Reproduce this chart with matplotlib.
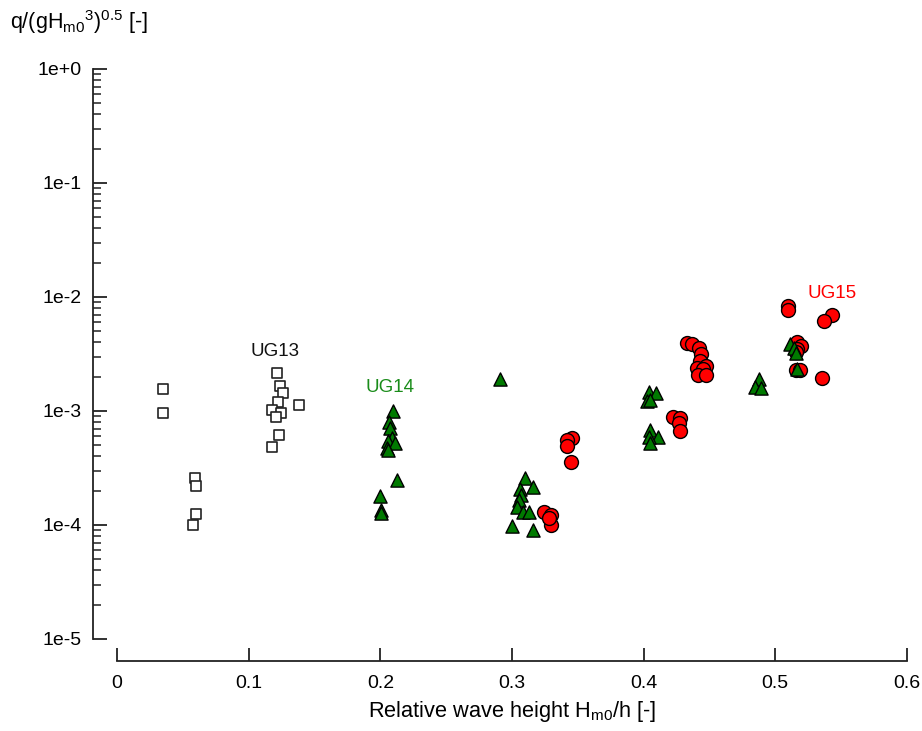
import numpy as np
import matplotlib
matplotlib.use("Agg")
import matplotlib.pyplot as plt
from matplotlib.ticker import FixedLocator, LogLocator, NullFormatter

plt.rcParams['font.family'] = ['Liberation Sans', 'DejaVu Sans']
plt.rcParams['mathtext.default'] = 'regular'

# data (x = Hm0/h, q = dimensionless overtopping)
ug13_x = [0.035, 0.035, 0.059, 0.060, 0.060, 0.058,
          0.1215, 0.124, 0.126, 0.1225, 0.138, 0.118, 0.1245, 0.121, 0.123, 0.1175]
ug13_q = [1.57e-3, 9.5e-4, 2.6e-4, 2.2e-4, 1.25e-4, 9.9e-5,
          2.17e-3, 1.66e-3, 1.43e-3, 1.21e-3, 1.13e-3, 1.01e-3, 9.5e-4, 8.8e-4, 6.1e-4, 4.8e-4]

ug14_x = [0.291, 0.210, 0.2065, 0.2075, 0.209, 0.206, 0.211, 0.2053, 0.206, 0.2124,
          0.1997, 0.2002, 0.2005,
          0.310, 0.306, 0.316, 0.307, 0.305, 0.304, 0.3085, 0.313, 0.2997, 0.3156,
          0.404, 0.4095, 0.4022, 0.405, 0.405, 0.411, 0.4042, 0.4047,
          0.5115, 0.514, 0.5156, 0.5161, 0.4877, 0.4844, 0.4895]
ug14_q = [1.91e-3, 1.0e-3, 7.96e-4, 7.05e-4, 5.8e-4, 5.45e-4, 5.2e-4, 4.7e-4, 4.55e-4, 2.5e-4,
          1.8e-4, 1.35e-4, 1.28e-4,
          2.6e-4, 2.06e-4, 2.17e-4, 1.83e-4, 1.66e-4, 1.45e-4, 1.31e-4, 1.29e-4, 9.8e-5, 9.0e-5,
          1.48e-3, 1.43e-3, 1.22e-3, 1.24e-3, 6.8e-4, 5.9e-4, 5.9e-4, 5.2e-4,
          3.9e-3, 3.6e-3, 3.2e-3, 2.33e-3, 1.91e-3, 1.63e-3, 1.6e-3]

ug15_x = [0.3245, 0.3293, 0.3300, 0.328,
          0.3457, 0.3419, 0.3419, 0.3445,
          0.4222, 0.4275, 0.4267, 0.4275,
          0.433, 0.4371, 0.4421, 0.4439, 0.4426, 0.4477, 0.4402, 0.4452, 0.4414, 0.4472,
          0.5097, 0.5097, 0.5434, 0.5368, 0.5161, 0.5194, 0.5165, 0.5156, 0.5156, 0.5191, 0.5351]
ug15_q = [1.31e-4, 1.22e-4, 9.9e-5, 1.15e-4,
          5.8e-4, 5.6e-4, 4.9e-4, 3.55e-4,
          8.86e-4, 8.7e-4, 7.9e-4, 6.7e-4,
          3.92e-3, 3.9e-3, 3.55e-3, 3.14e-3, 2.76e-3, 2.5e-3, 2.37e-3, 2.33e-3, 2.07e-3, 2.07e-3,
          8.3e-3, 7.7e-3, 6.95e-3, 6.1e-3, 4.05e-3, 3.74e-3, 3.5e-3, 3.27e-3, 2.29e-3, 2.29e-3, 1.93e-3]

x_ticks = [0, 0.1, 0.2, 0.3, 0.4, 0.5, 0.6]
x_tick_labels = ['0', '0.1', '0.2', '0.3', '0.4', '0.5', '0.6']
y_ticks = [1e-5, 1e-4, 1e-3, 1e-2, 1e-1, 1e0]
y_tick_labels = ['1e-5', '1e-4', '1e-3', '1e-2', '1e-1', '1e+0']

fig = plt.figure(figsize=(9.22, 7.31), dpi=100)
ax = fig.add_axes([0.1269, 0.1259, 0.8568, 0.7798])

ax.scatter(ug13_x, ug13_q, marker='s', s=60, facecolor='white', edgecolor='#222222', linewidth=1.2, zorder=3)
ax.scatter(ug15_x, ug15_q, marker='o', s=100, facecolor='#ff0000', edgecolor='black', linewidth=1.0, zorder=3)
ax.scatter(ug14_x, ug14_q, marker='^', s=90, facecolor='#007a00', edgecolor='black', linewidth=1.0, zorder=4)

ax.text(0.120, 3.3e-3, 'UG13', color='#111111', fontsize=13.5, ha='center', va='center')
ax.text(0.2073, 1.59e-3, 'UG14', color='#1a8c1a', fontsize=13.5, ha='center', va='center')
ax.text(0.5429, 1.08e-2, 'UG15', color='#ff0000', fontsize=13.5, ha='center', va='center')

ax.set_yscale('log')
ax.set_xlim(0, 0.6)
ax.set_ylim(1e-5, 1e0)

ax.xaxis.set_major_locator(FixedLocator(x_ticks))
ax.set_xticklabels(x_tick_labels)
ax.yaxis.set_major_locator(FixedLocator(y_ticks))
ax.set_yticklabels(y_tick_labels)
ax.yaxis.set_minor_locator(LogLocator(base=10, subs=np.arange(2, 10)))
ax.yaxis.set_minor_formatter(NullFormatter())

for side in ['top', 'right']:
    ax.spines[side].set_visible(False)
ax.spines['left'].set_position(('outward', 17.3))
ax.spines['bottom'].set_position(('outward', 15.8))
for side in ['left', 'bottom']:
    ax.spines[side].set_linewidth(1.3)
    ax.spines[side].set_color('#222222')

ax.tick_params(axis='y', which='major', direction='in', length=10, width=1.3, pad=8, labelsize=14, color='#222222')
ax.tick_params(axis='y', which='minor', direction='in', length=5.5, width=1.1, color='#222222')
ax.tick_params(axis='x', which='major', direction='in', length=9.5, width=1.3, pad=10, labelsize=14, color='#222222')
ax.tick_params(axis='x', which='minor', bottom=False)

ax.set_xlabel('Relative wave height H$_{m0}$/h [-]', fontsize=15.7, labelpad=5)
fig.text(10 / 922, 1 - 22 / 731, 'q/(gH$_{m0}$$^{3}$)$^{0.5}$ [-]', fontsize=15.5, ha='left', va='center')

fig.savefig('out.png', dpi=100)
